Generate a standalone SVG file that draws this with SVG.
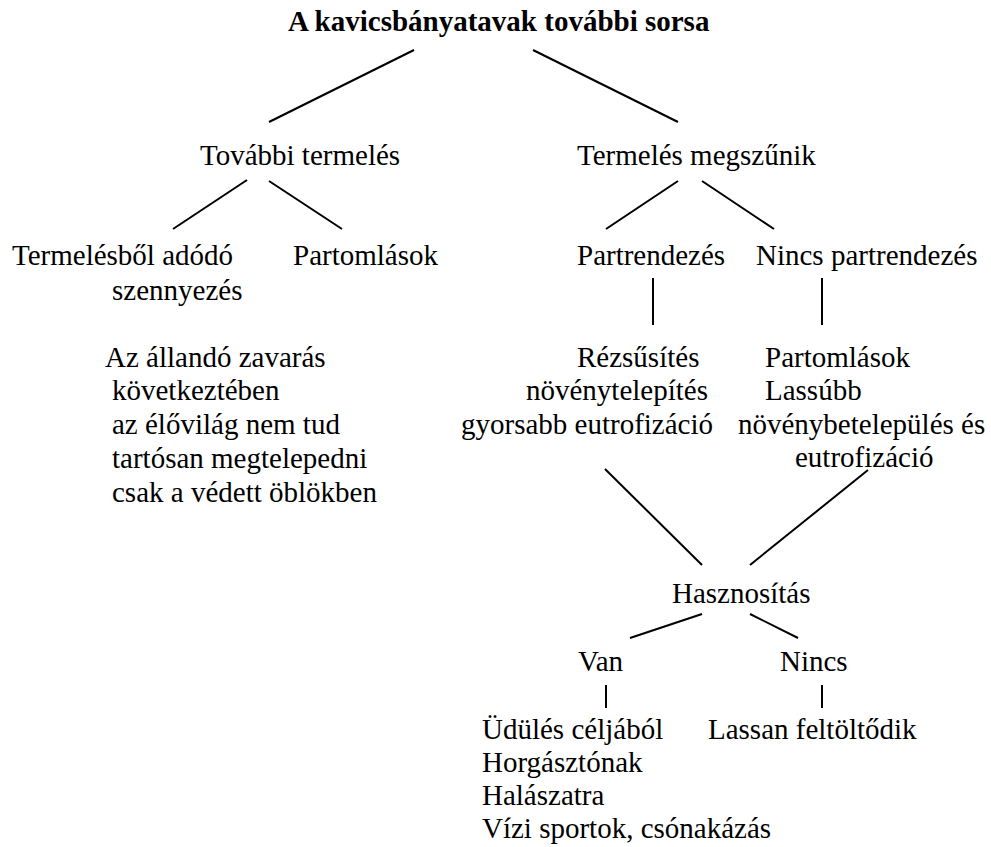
<svg xmlns="http://www.w3.org/2000/svg" width="991" height="847" viewBox="0 0 991 847">
<style>
#connectors line{stroke:#000;stroke-width:2;fill:none}
</style>
<rect width="991" height="847" fill="#fff"/>
<g id="connectors">
<line x1="414" y1="50" x2="269" y2="122"/>
<line x1="533" y1="50" x2="678" y2="122"/>
<line x1="247" y1="180" x2="173" y2="229"/>
<line x1="269" y1="181" x2="342" y2="229"/>
<line x1="678" y1="181" x2="606" y2="229"/>
<line x1="702" y1="181" x2="774" y2="229"/>
<line x1="653" y1="278" x2="653" y2="325"/>
<line x1="822" y1="278" x2="822" y2="325"/>
<line x1="605" y1="469" x2="702" y2="565"/>
<line x1="868" y1="470" x2="750" y2="565"/>
<line x1="702" y1="614" x2="630" y2="638"/>
<line x1="750" y1="614" x2="798" y2="638"/>
<line x1="606" y1="685" x2="606" y2="708"/>
<line x1="822" y1="685" x2="822" y2="708"/>
</g>
<g font-family="Liberation Serif" font-size="29" fill="#000">
<g id="title"><text font-weight="bold" x="288" y="31">A kavicsbányatavak további sorsa</text></g>
<g id="tovabbi"><text x="200" y="165">További termelés</text></g>
<g id="megszunik"><text x="577" y="165">Termelés megszűnik</text></g>
<g id="szennyezes"><text x="12" y="265">Termelésből adódó</text><text x="112" y="300">szennyezés</text></g>
<g id="partomlasok1"><text x="293" y="265">Partomlások</text></g>
<g id="zavaras">
<text x="105" y="367">Az állandó zavarás</text>
<text x="112" y="400">következtében</text>
<text x="112" y="434">az élővilág nem tud</text>
<text x="112" y="468">tartósan megtelepedni</text>
<text x="112" y="502">csak a védett öblökben</text>
</g>
<g id="partrendezes"><text x="577" y="265">Partrendezés</text></g>
<g id="nincs-partrendezes"><text x="756" y="265">Nincs partrendezés</text></g>
<g id="rezsusites">
<text x="577" y="367">Rézsűsítés</text>
<text x="526" y="400">növénytelepítés</text>
<text x="461" y="434">gyorsabb eutrofizáció</text>
</g>
<g id="partomlasok2">
<text x="765" y="367">Partomlások</text>
<text x="765" y="400">Lassúbb</text>
<text x="738" y="434">növénybetelepülés és</text>
<text x="795" y="467">eutrofizáció</text>
</g>
<g id="hasznositas"><text x="672" y="603">Hasznosítás</text></g>
<g id="van"><text x="578" y="671">Van</text></g>
<g id="nincs"><text x="780" y="671">Nincs</text></g>
<g id="van-list">
<text x="482" y="739">Üdülés céljából</text>
<text x="482" y="772">Horgásztónak</text>
<text x="482" y="805">Halászatra</text>
<text x="482" y="838">Vízi sportok, csónakázás</text>
</g>
<g id="nincs-list"><text x="708" y="739">Lassan feltöltődik</text></g>
</g>
</svg>
